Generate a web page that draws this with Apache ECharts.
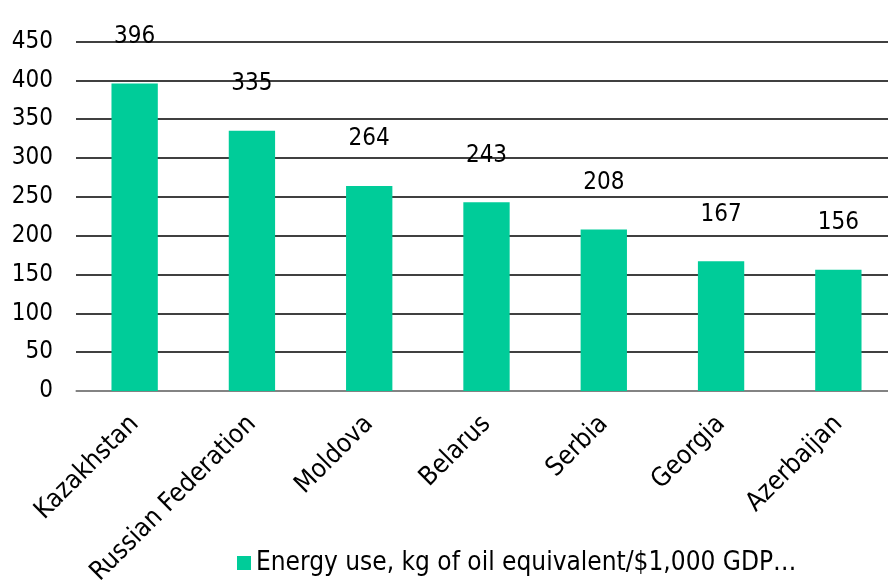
<!DOCTYPE html>
<html><head><meta charset="utf-8">
<script src="https://cdn.jsdelivr.net/npm/echarts@6/dist/echarts.min.js"></script>
<style>html,body{margin:0;padding:0;background:#fff}#c{width:888px;height:581px}</style>
</head><body><div id="c"></div>
<script>
var categories = ["Kazakhstan","Russian Federation","Moldova","Belarus","Serbia","Georgia","Azerbaijan"];
var values = [396,335,264,243,208,167,156];
var seriesName = "Energy use, kg of oil equivalent/$1,000 GDP\u2026";
var FONT = "DejaVu Sans Condensed";
var chart = echarts.init(document.getElementById('c'));
chart.setOption({
  animation:false,
  textStyle:{fontFamily:FONT},
  grid:{left:76,right:-9,top:41.5,bottom:190,containLabel:false,outerBoundsMode:'none'},
  legend:{data:[seriesName],left:232,top:545,itemWidth:14,itemHeight:14,itemGap:7,
    textStyle:{fontFamily:FONT,fontSize:26,color:'#000'},icon:'rect'},
  xAxis:{type:'category',data:categories,
    axisLine:{lineStyle:{color:'#999',width:1.5}},
    axisTick:{length:8,lineStyle:{color:'#999',width:1.5}},
    axisLabel:{rotate:45,interval:0,margin:29,fontFamily:FONT,fontSize:26,color:'#000'}},
  yAxis:{type:'value',min:0,max:450,interval:50,
    axisLine:{show:false},axisTick:{show:false},
    splitLine:{lineStyle:{color:'#000',width:1.5}},
    axisLabel:{margin:23,fontFamily:FONT,fontSize:24,color:'#000'}},
  series:[{name:seriesName,type:'bar',data:values,barWidth:'39.5%',
    itemStyle:{color:'#00CC99'},
    label:{show:true,position:'top',distance:35,fontFamily:FONT,fontSize:24,color:'#000'}}]
});
</script></body></html>
